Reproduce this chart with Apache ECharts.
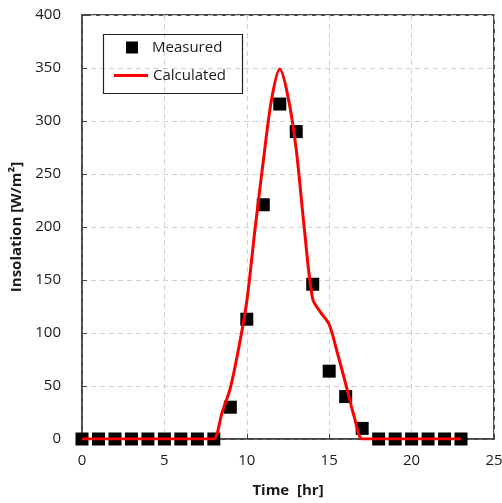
<!DOCTYPE html>
<html><head><meta charset="utf-8">
<script src="https://cdn.jsdelivr.net/npm/echarts@6/dist/echarts.min.js"></script>
<style>html,body{margin:0;padding:0;background:#fff}#c{width:502px;height:503px}</style>
</head><body><div id="c"></div>
<script>
var measuredHours = [0,1,2,3,4,5,6,7,8,9,10,11,12,13,14,15,16,17,18,19,20,21,22,23];
var measuredValues = [0,0,0,0,0,0,0,0,0,30,113,221,316,290,146,64,40,10,0,0,0,0,0,0];
var calcHours = [0,1,2,3,4,5,6,7,7.5,8,8.5,9,9.5,10,10.5,11,11.5,12,12.5,13,13.5,14,14.5,15,15.5,16,16.5,17,17.5,18,19,20,21,22,23];
var calcValues = [0,0,0,0,0,0,0,0,0,0,25,48,85,130,198,262,320,349,323,273,197,132,119,108,81,52,22,0,0,0,0,0,0,0,0];
var xTicks = {min:0, max:25, interval:5};
var yTicks = {min:0, max:400, interval:50};

var measured = measuredHours.map(function(h,i){return [h, measuredValues[i]];});
var calc = calcHours.map(function(h,i){return [h, calcValues[i]];});
var font = 'Open Sans';
var chart = echarts.init(document.getElementById('c'));
chart.setOption({
  animation:false,
  grid:{left:82, top:15, right:8, bottom:64, show:true, borderColor:'#111', borderWidth:1.5, containLabel:false, outerBoundsMode:'none'},
  xAxis:{type:'value', min:xTicks.min, max:xTicks.max, interval:xTicks.interval,
    name:'Time  [hr]', nameLocation:'middle', nameGap:44,
    nameTextStyle:{fontFamily:font, fontSize:15, fontWeight:'bold', color:'#1a1a1a'},
    axisLine:{show:true, lineStyle:{color:'#444', width:1.5}},
    axisTick:{show:true, inside:true, length:5, lineStyle:{color:'#444'}},
    axisLabel:{fontFamily:font, fontSize:15, color:'#1a1a1a', margin:14},
    splitLine:{show:true, lineStyle:{color:'#d0d0d0', type:[5,4], width:1}}
  },
  yAxis:{type:'value', min:yTicks.min, max:yTicks.max, interval:yTicks.interval,
    name:'Insolation [W/m\u00B2]', nameLocation:'middle', nameGap:58,
    nameTextStyle:{fontFamily:font, fontSize:15, fontWeight:'bold', color:'#1a1a1a'},
    axisLine:{show:true, lineStyle:{color:'#444', width:1.5}},
    axisTick:{show:true, inside:true, length:5, lineStyle:{color:'#444'}},
    axisLabel:{fontFamily:font, fontSize:15, color:'#1a1a1a', margin:21},
    splitLine:{show:true, lineStyle:{color:'#d0d0d0', type:[5,4], width:1}}
  },
  graphic:[{type:'rect', left:101, top:32, shape:{width:139, height:59}, style:{fill:'none', stroke:'#222', lineWidth:1.2}, z:100}],
  legend:[
    {data:[{name:'Measured', icon:'rect'}], left:126, top:40, itemWidth:12, itemHeight:12, orient:'vertical', padding:0,
     itemStyle:{opacity:1},
     textStyle:{fontFamily:font, fontSize:15, color:'#1a1a1a', padding:[0,0,0,9]}},
    {data:[{name:'Calculated', icon:'rect'}], left:114, top:68, itemWidth:34, itemHeight:3, orient:'vertical', padding:0,
     textStyle:{fontFamily:font, fontSize:15, color:'#1a1a1a'}}
  ],
  series:[
    {name:'Measured', type:'scatter', data:measured, symbol:'rect', symbolSize:13, itemStyle:{color:'#000', opacity:1}, z:2},
    {name:'Calculated', type:'line', data:calc, smooth:0.3, symbol:'none', showSymbol:false,
     lineStyle:{color:'#ff0000', width:3}, itemStyle:{color:'#ff0000'}, z:3}
  ]
});
</script></body></html>
